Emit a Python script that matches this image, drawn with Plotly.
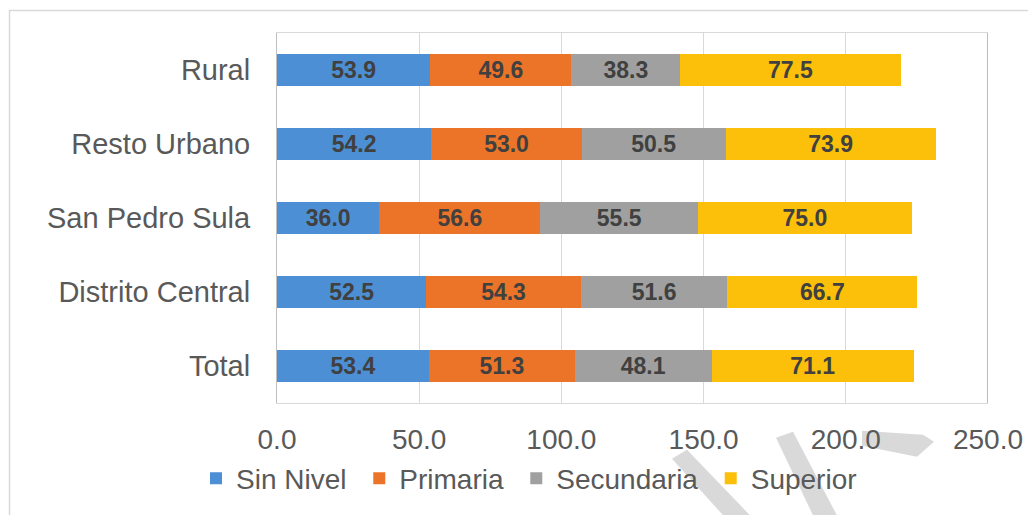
import plotly.graph_objects as go

categories = ["Total", "Distrito Central", "San Pedro Sula", "Resto Urbano", "Rural"]
series_names = ["Sin Nivel", "Primaria", "Secundaria", "Superior"]
sin_nivel = [53.4, 52.5, 36.0, 54.2, 53.9]
primaria = [51.3, 54.3, 56.6, 53.0, 49.6]
secundaria = [48.1, 51.6, 55.5, 50.5, 38.3]
superior = [71.1, 66.7, 75.0, 73.9, 77.5]
x_ticks = [0, 50, 100, 150, 200, 250]
x_tick_labels = ["0.0", "50.0", "100.0", "150.0", "200.0", "250.0"]

colors = ["#4d8fd5", "#ec7428", "#a0a0a0", "#fcbf0a"]
values = [sin_nivel, primaria, secundaria, superior]

# page body has an 8px margin; figure coordinates are page coordinates minus 8
OFF = 8
W, H = 1036 - OFF, 515 - OFF
L, R, T, B = 277 - OFF, 988 - OFF, 33 - OFF, 405 - OFF

FONT = "Liberation Sans, Arial, sans-serif"

fig = go.Figure()
for i, (name, vals, col) in enumerate(zip(series_names, values, colors)):
    legend_name = name + ("\u00a0" if i < len(series_names) - 1 else "")
    fig.add_trace(go.Bar(
        y=categories, x=vals, name=legend_name, orientation="h",
        marker=dict(color=col, line=dict(width=0)),
        texttemplate="%{x:.1f}", textposition="inside",
        insidetextanchor="middle",
        textfont=dict(family=FONT, size=23, color="#404040", weight="bold"),
        constraintext="none",
    ))


def px(x):
    # x in page pixels
    return (x - OFF - L) / (R - L)


def py(y):
    return (B - (y - OFF)) / (B - T)


def poly(points):
    return "M " + " L ".join(f"{px(a):.5f},{py(b):.5f}" for a, b in points) + " Z"


shapes = []
shapes.append(dict(type="rect", xref="paper", yref="paper",
                   x0=px(9.5), x1=px(1050), y0=py(10.5), y1=py(540),
                   line=dict(color="#d9d9d9", width=1.5), fillcolor="rgba(0,0,0,0)", layer="below"))
wm = "#d9d9d9"
for pts in [
    [(672, 461), (687, 452), (752, 520), (725, 520)],
    [(776, 440), (793, 434), (838, 520), (814, 520)],
    [(862, 433), (923, 437), (934, 444), (917, 459), (862, 448)],
]:
    shapes.append(dict(type="path", xref="paper", yref="paper", path=poly(pts),
                       fillcolor=wm, line=dict(width=0), layer="below"))
shapes.append(dict(type="line", xref="x", yref="paper", x0=250, x1=250, y0=0, y1=1,
                   line=dict(color="#a6a6a6", width=1.5), layer="above"))

fig.update_layout(
    width=W, height=H,
    margin=dict(l=L, r=W - R, t=T, b=H - B, pad=0),
    barmode="stack", bargap=0.57,
    plot_bgcolor="white", paper_bgcolor="white",
    font=dict(family=FONT, color="#595959"),
    showlegend=True,
    legend=dict(orientation="h", x=px(529), xanchor="center", y=py(481), yanchor="middle",
                font=dict(family=FONT, size=28, color="#595959"),
                bgcolor="rgba(0,0,0,0)", traceorder="normal", itemclick=False),
    xaxis=dict(range=[0, 250], tickvals=x_ticks, ticktext=x_tick_labels,
               showgrid=True, gridcolor="#d9d9d9", gridwidth=1, zeroline=False,
               showline=True, linecolor="#d9d9d9", linewidth=1, mirror=True,
               ticks="", tickfont=dict(family=FONT, size=28, color="#595959"),
               ticklabelstandoff=11),
    yaxis=dict(categoryorder="array", categoryarray=categories,
               showgrid=False, zeroline=False, showline=True, linecolor="#bfbfbf", linewidth=1,
               ticks="", tickfont=dict(family=FONT, size=29, color="#595959"),
               ticklabelstandoff=20),
    shapes=shapes,
)

fig.write_html("out.html")
